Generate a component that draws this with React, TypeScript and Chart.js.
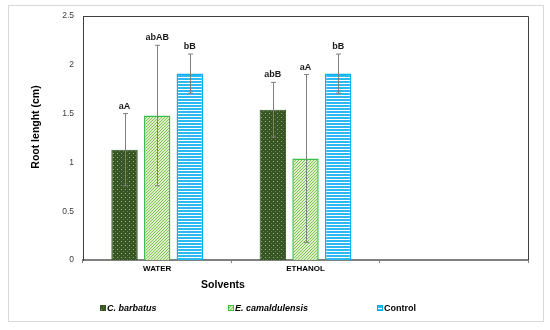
import React, { useEffect, useRef } from "react";
import { Chart, registerables } from "chart.js";
Chart.register(...registerables);

const categories = ["WATER", "ETHANOL", ""];
const seriesNames = ["C. barbatus", "E. camaldulensis", "Control"];
const barbatusValues = [1.13, 1.54, null];
const barbatusErrors = [0.37, 0.28, null];
const camaldulensisValues = [1.48, 1.04, null];
const camaldulensisErrors = [0.72, 0.86, null];
const controlValues = [1.91, 1.91, null];
const controlErrors = [0.2, 0.2, null];
const barbatusLetters = ["aA", "abB", ""];
const camaldulensisLetters = ["abAB", "aA", ""];
const controlLetters = ["bB", "bB", ""];
const yTicks = [0, 0.5, 1, 1.5, 2, 2.5];
const xTitle = "Solvents";
const yTitle = "Root lenght (cm)";

const FONT = "'Liberation Sans', Arial, sans-serif";

function makePattern(kind: string): CanvasPattern | string {
  const c = document.createElement("canvas");
  const g = c.getContext("2d")!;
  if (kind === "dots") {
    c.width = 4; c.height = 4;
    g.fillStyle = "#375623"; g.fillRect(0, 0, 4, 4);
    g.fillStyle = "#8fae74"; g.fillRect(1, 1, 1, 1);
    g.fillStyle = "#5c7a48"; g.fillRect(3, 3, 1, 1);
  } else if (kind === "hatch") {
    c.width = 3; c.height = 3;
    g.fillStyle = "#dcefc9"; g.fillRect(0, 0, 3, 3);
    g.fillStyle = "#84c457";
    g.fillRect(2, 0, 1, 1); g.fillRect(1, 1, 1, 1); g.fillRect(0, 2, 1, 1);
  } else {
    c.width = 4; c.height = 3;
    g.fillStyle = "#2cb8f0"; g.fillRect(0, 0, 4, 2);
    g.fillStyle = "#ffffff"; g.fillRect(0, 2, 4, 1);
  }
  return g.createPattern(c, "repeat") || "#888";
}

export default function App() {
  const ref = useRef<HTMLCanvasElement>(null);
  useEffect(() => {
    document.body.style.margin = "0";
    const canvas = ref.current!;
    const fills = [makePattern("dots"), makePattern("hatch"), makePattern("stripes")];
    const borders = ["#375623", "#3cbf4a", "#00b0f0"];
    const errors = [barbatusErrors, camaldulensisErrors, controlErrors];
    const letters = [barbatusLetters, camaldulensisLetters, controlLetters];

    const decor = {
      id: "decor",
      beforeDraw(chart: any) {
        const ctx = chart.ctx;
        ctx.save();
        ctx.fillStyle = "#ffffff";
        ctx.fillRect(0, 0, chart.width, chart.height);
        ctx.strokeStyle = "#d9d9d9";
        ctx.lineWidth = 1;
        ctx.strokeRect(8.5, 5.5, 535, 316);
        ctx.restore();
      },
      afterDatasetsDraw(chart: any) {
        const ctx = chart.ctx;
        const ys = chart.scales.y;
        ctx.save();
        chart.data.datasets.forEach((ds: any, i: number) => {
          const meta = chart.getDatasetMeta(i);
          ds.data.forEach((v: number | null, j: number) => {
            if (v == null) return;
            const e = errors[i][j] as number;
            const el = meta.data[j];
            const x = Math.round(el.x) + 0.5;
            const yT = ys.getPixelForValue(v + e);
            const yB = ys.getPixelForValue(v - e);
            ctx.strokeStyle = "#7f7f7f";
            ctx.lineWidth = 1;
            ctx.beginPath();
            ctx.moveTo(x, yT); ctx.lineTo(x, yB);
            ctx.moveTo(x - 2.5, yT); ctx.lineTo(x + 2.5, yT);
            ctx.moveTo(x - 2.5, yB); ctx.lineTo(x + 2.5, yB);
            ctx.stroke();
            ctx.fillStyle = "#1a1a1a";
            ctx.font = `bold 9px ${FONT}`;
            ctx.textAlign = "center";
            ctx.textBaseline = "alphabetic";
            ctx.fillText(letters[i][j], el.x, yT - 5);
          });
        });
        ctx.restore();
      },
      afterDraw(chart: any) {
        const ctx = chart.ctx;
        const a = chart.chartArea;
        ctx.save();
        ctx.strokeStyle = "#404040";
        ctx.lineWidth = 1;
        ctx.beginPath();
        ctx.moveTo(a.left, a.top + 0.5); ctx.lineTo(a.right + 0.5, a.top + 0.5);
        ctx.lineTo(a.right + 0.5, a.bottom);
        ctx.stroke();
        ctx.fillStyle = "#000000";
        ctx.font = `bold 10.5px ${FONT}`;
        ctx.textAlign = "center";
        ctx.textBaseline = "middle";
        ctx.fillText(xTitle, 223, 285);
        ctx.save();
        ctx.translate(36, 127);
        ctx.rotate(-Math.PI / 2);
        ctx.fillText(yTitle, 0, 0);
        ctx.restore();
        const lx = [100, 228, 377];
        seriesNames.forEach((name, i) => {
          ctx.fillStyle = fills[i];
          ctx.fillRect(lx[i], 305.5, 5, 5);
          ctx.strokeStyle = borders[i];
          ctx.lineWidth = 1;
          ctx.strokeRect(lx[i] + 0.5, 305.5, 5, 5);
          ctx.fillStyle = "#000000";
          ctx.font = (i < 2 ? "italic " : "") + `bold 9px ${FONT}`;
          ctx.textAlign = "left";
          ctx.textBaseline = "middle";
          ctx.fillText(name, lx[i] + 7, 308.5);
        });
        ctx.restore();
      },
    };

    const mk = (label: string, data: any[], i: number) => ({
      label,
      data,
      backgroundColor: fills[i],
      borderColor: borders[i],
      borderWidth: i === 0 ? 1 : 1.5,
      categoryPercentage: 0.66,
      barPercentage: 0.81,
    });

    const chart = new Chart(canvas, {
      type: "bar",
      data: {
        labels: categories,
        datasets: [
          mk(seriesNames[0], barbatusValues, 0),
          mk(seriesNames[1], camaldulensisValues, 1),
          mk(seriesNames[2], controlValues, 2),
        ],
      },
      options: {
        responsive: false,
        animation: false,
        layout: { padding: { left: 0, right: 22, top: 16, bottom: 50 } },
        plugins: { legend: { display: false }, tooltip: { enabled: false } },
        scales: {
          x: {
            offset: true,
            grid: { display: true, drawOnChartArea: false, drawTicks: true, tickLength: 3, color: "#808080", offset: true },
            border: { display: true, color: "#808080", width: 2 },
            ticks: { font: { family: FONT, size: 8, weight: "bold" }, color: "#000000", padding: 1, maxRotation: 0 },
            afterFit: (s: any) => { s.height = 20; },
          },
          y: {
            min: 0,
            max: 2.5,
            grid: { display: false, drawTicks: false },
            border: { display: true, color: "#404040", width: 1 },
            afterBuildTicks: (s: any) => { s.ticks = yTicks.map((v) => ({ value: v })); },
            ticks: {
              font: { family: FONT, size: 8.5 },
              color: "#404040",
              padding: 9,
              callback: (v: any) => String(v),
            },
            afterFit: (s: any) => { s.width = 83; },
          },
        },
      },
      plugins: [decor],
    } as any);
    return () => chart.destroy();
  }, []);
  return (
    <div style={{ position: "fixed", left: 0, top: 0, width: 550, height: 330 }}>
      <canvas ref={ref} width={550} height={330} />
    </div>
  );
}
